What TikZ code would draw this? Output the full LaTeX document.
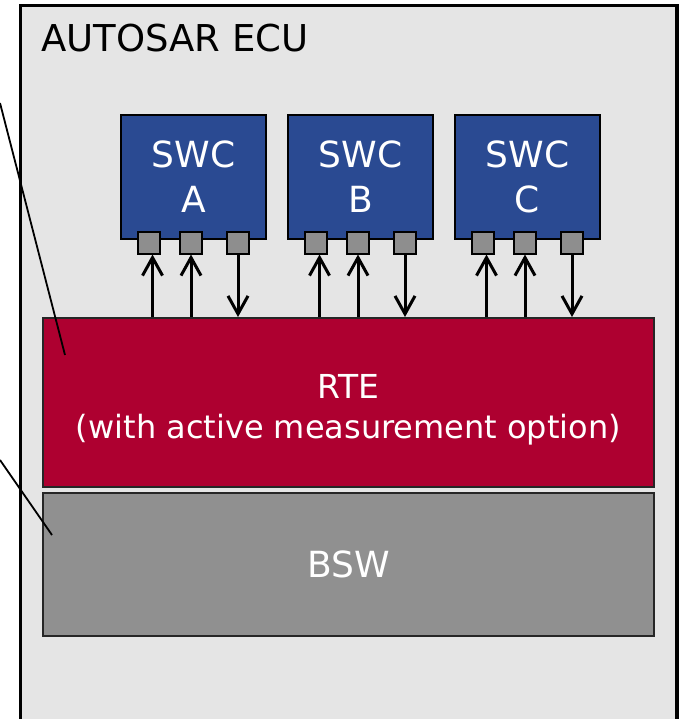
\documentclass[tikz,border=0pt]{standalone}
\usepackage{fontspec}
\setmainfont{DejaVu Sans}
\usetikzlibrary{arrows.meta}
\definecolor{ecubg}{HTML}{E5E5E5}
\definecolor{swcblue}{HTML}{2A4A92}
\definecolor{rtered}{HTML}{AE0030}
\definecolor{bswgray}{HTML}{909090}
\definecolor{portgray}{HTML}{8E8E8E}
\tikzset{
  swcbox/.style={draw=black, line width=2pt, fill=swcblue, minimum width=145pt, minimum height=124pt, inner sep=0pt},
  layerbox/.style={draw=black!85, line width=2pt, minimum width=611pt, inner sep=0pt},
  portbox/.style={draw=black, line width=2pt, fill=portgray, minimum size=22pt, inner sep=0pt},
  whitetext/.style={text=white, align=center, inner sep=0pt, anchor=base},
  flow/.style={line width=3pt, -{Straight Barb[length=18pt,width=20pt,line width=3pt]}},
  pointer/.style={line width=1.8pt}
}
\begin{document}
\begin{tikzpicture}[x=1pt,y=-1pt]
\useasboundingbox (0,0) rectangle (681,719);
% outer ECU box
\draw[line width=3.5pt, fill=ecubg] (20.5,5.5) rectangle (677,760);
\node[anchor=base west, inner sep=0pt, font=\fontsize{37}{44}\selectfont] (ecu) at (41,52) {AUTOSAR ECU};
% layers
\node[layerbox, fill=rtered, minimum height=169pt] (rte) at (348.5,402.5) {};
\node[whitetext, font=\fontsize{33}{40}\selectfont] (rtetext) at (348.5,438) {RTE\\\fontsize{32}{40}\selectfont(with active measurement option)};
\node[layerbox, fill=bswgray, minimum height=143pt] (bsw) at (348.5,564.5) {};
\node[whitetext, font=\fontsize{36}{44}\selectfont] (bswtext) at (348.5,577) {BSW};
% SWCs
\foreach \n/\cx/\l in {A/193.5/A, B/360.5/B, C/527.5/C}{
  \node[swcbox] (swc\n) at (\cx,177) {};
  \node[whitetext, font=\fontsize{36}{44}\selectfont] (swc\n text) at (\cx,212) {SWC\\\l};
  \node[portbox] (p\n1) at (\cx-44.5,242.5) {};
  \node[portbox] (p\n2) at (\cx-2.5,242.5) {};
  \node[portbox] (p\n3) at (\cx+44.5,242.5) {};
  \draw[flow] ([xshift=3.5pt]p\n1.south |- rte.north) -- ([xshift=3.5pt]p\n1.south);
  \draw[flow] (p\n2.south |- rte.north) -- (p\n2.south);
  \draw[flow] (p\n3.south) -- (p\n3.south |- rte.north);
}
% pointer lines from outside
\coordinate (q1) at (0,103);
\coordinate (q1end) at (65,355);
\coordinate (q2) at (0,460);
\coordinate (q2end) at (52,535);
\draw[pointer] (q1) -- (q1end);
\draw[pointer] (q2) -- (q2end);
\end{tikzpicture}
\end{document}
